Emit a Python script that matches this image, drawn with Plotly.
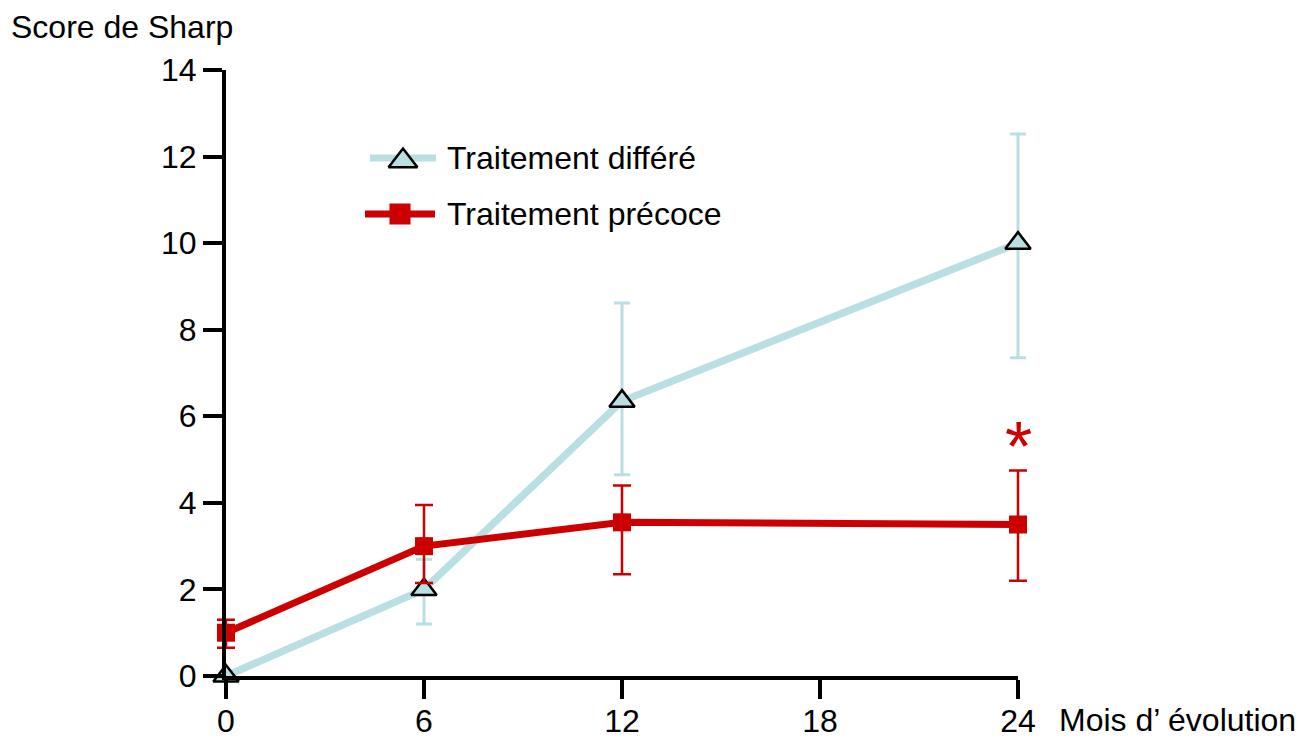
import plotly.graph_objects as go

months = [0, 6, 12, 24]
x_ticks = [0, 6, 12, 18, 24]
y_ticks = [0, 2, 4, 6, 8, 10, 12, 14]

differe = [0.0, 2.0, 6.35, 10.0]
differe_err_plus = [0.0, 0.7, 2.27, 2.52]
differe_err_minus = [0.0, 0.8, 1.7, 2.65]

precoce = [1.0, 3.0, 3.55, 3.5]
precoce_err_plus = [0.3, 0.95, 0.85, 1.25]
precoce_err_minus = [0.35, 0.85, 1.2, 1.3]

name_differe = "Traitement différé"
name_precoce = "Traitement précoce"
y_title = "Score de Sharp"
x_title = "Mois d’ évolution"
signif_month = 24
signif_y = 5.3

BLUE = "#b9dfe3"
RED = "#cc0000"
FONT = "Liberation Sans, Arial, sans-serif"
FS = 32

W, H = 1301, 738
# pixel frame of the visible axes
AX_L, AX_R, AX_T, AX_B = 226, 1018, 70, 676
# outer plotting box (a bit wider so error-bar caps at the ends are not clipped)
L, R, T, B = 200, 260, AX_T, H - AX_B
PW, PH = W - L - R, H - T - B
X_MIN, X_MAX = 0, 24
SCALE = (AX_R - AX_L) / (X_MAX - X_MIN)
data_range = [X_MIN - (AX_L - L) / SCALE, X_MAX + ((W - R) - AX_R) / SCALE]


def px_x(p):
    return (p - L) / PW


def px_y(p):
    return (H - B - p) / PH


fig = go.Figure()

fig.add_trace(go.Scatter(
    x=months, y=differe, mode="lines+markers", name=name_differe,
    line=dict(color=BLUE, width=7.5),
    marker=dict(symbol="triangle-up", size=22, color=BLUE, line=dict(color="black", width=2.5)),
    error_y=dict(type="data", array=differe_err_plus, arrayminus=differe_err_minus,
                 color=BLUE, thickness=3, width=8),
    cliponaxis=False, showlegend=False))

fig.add_trace(go.Scatter(
    x=months, y=precoce, mode="lines+markers", name=name_precoce,
    line=dict(color=RED, width=7),
    marker=dict(symbol="square", size=18, color=RED),
    error_y=dict(type="data", array=precoce_err_plus, arrayminus=precoce_err_minus,
                 color=RED, thickness=2.5, width=9),
    cliponaxis=False, showlegend=False))

# invisible trace that registers the display axis (x3) so it gets drawn
fig.add_trace(go.Scatter(x=[X_MIN], y=[0], mode="markers", xaxis="x3", yaxis="y",
                         marker=dict(opacity=0), showlegend=False, hoverinfo="skip"))

# manual legend on a pixel-mapped overlay axis
fig.add_trace(go.Scatter(x=[370, 436], y=[158, 158], mode="lines", xaxis="x2", yaxis="y2",
                         line=dict(color=BLUE, width=7), showlegend=False, hoverinfo="skip", cliponaxis=False))
fig.add_trace(go.Scatter(x=[403], y=[161], mode="markers", xaxis="x2", yaxis="y2",
                         marker=dict(symbol="triangle-up", size=25, color=BLUE, line=dict(color="black", width=2.5)),
                         showlegend=False, hoverinfo="skip", cliponaxis=False))
fig.add_trace(go.Scatter(x=[365, 435], y=[214, 214], mode="lines", xaxis="x2", yaxis="y2",
                         line=dict(color=RED, width=7), showlegend=False, hoverinfo="skip", cliponaxis=False))
fig.add_trace(go.Scatter(x=[400], y=[214], mode="markers", xaxis="x2", yaxis="y2",
                         marker=dict(symbol="square", size=21, color=RED),
                         showlegend=False, hoverinfo="skip", cliponaxis=False))

annotations = [
    dict(x=px_x(445), y=px_y(158), xref="paper", yref="paper", text=name_differe, showarrow=False,
         xanchor="left", yanchor="middle", font=dict(size=FS, color="black", family=FONT)),
    dict(x=px_x(445), y=px_y(214), xref="paper", yref="paper", text=name_precoce, showarrow=False,
         xanchor="left", yanchor="middle", font=dict(size=FS, color="black", family=FONT)),
    dict(x=px_x(122), y=px_y(27), xref="paper", yref="paper", text=y_title, showarrow=False,
         xanchor="center", yanchor="middle", font=dict(size=FS, color="black", family=FONT)),
    dict(x=px_x(1057), y=px_y(720), xref="paper", yref="paper", text=x_title, showarrow=False,
         xanchor="left", yanchor="middle", font=dict(size=FS, color="black", family=FONT)),
    dict(x=signif_month, y=signif_y, xref="x", yref="y", text="*", showarrow=False,
         xanchor="center", yanchor="middle", font=dict(size=70, color=RED, family=FONT)),
]

fig.update_layout(
    width=W, height=H,
    margin=dict(l=L, r=R, t=T, b=B, pad=0, autoexpand=False),
    paper_bgcolor="white", plot_bgcolor="rgba(0,0,0,0)",
    font=dict(family=FONT, size=FS, color="black"),
    # data axis (wider, invisible)
    xaxis=dict(range=data_range, domain=[0, 1], anchor="y", visible=False, fixedrange=True),
    # displayed x axis
    xaxis3=dict(range=[X_MIN, X_MAX], domain=[px_x(AX_L), px_x(AX_R)],
                tickvals=x_ticks, ticktext=[str(v) for v in x_ticks],
                showgrid=False, zeroline=False, showline=True, linecolor="black", linewidth=4,
                ticks="outside", ticklen=19, tickwidth=4, tickcolor="black", automargin=False,
                ticklabelstandoff=-5, anchor="y",
                tickfont=dict(size=FS, family=FONT), fixedrange=True),
    yaxis=dict(range=[0, 14], tickvals=y_ticks, ticktext=[str(v) for v in y_ticks],
               showgrid=False, zeroline=False, showline=True, linecolor="black", linewidth=4,
               ticks="outside", ticklen=19, tickwidth=4, tickcolor="black", automargin=False,
               anchor="x3", tickfont=dict(size=FS, family=FONT), fixedrange=True),
    xaxis2=dict(range=[L, W - R], overlaying="x", visible=False, fixedrange=True),
    yaxis2=dict(range=[AX_B, AX_T], overlaying="y", visible=False, fixedrange=True),
    annotations=annotations,
)

fig.write_html("out.html", config={"displayModeBar": False},
               post_script="document.body.style.margin='0';document.body.style.overflow='hidden';")
